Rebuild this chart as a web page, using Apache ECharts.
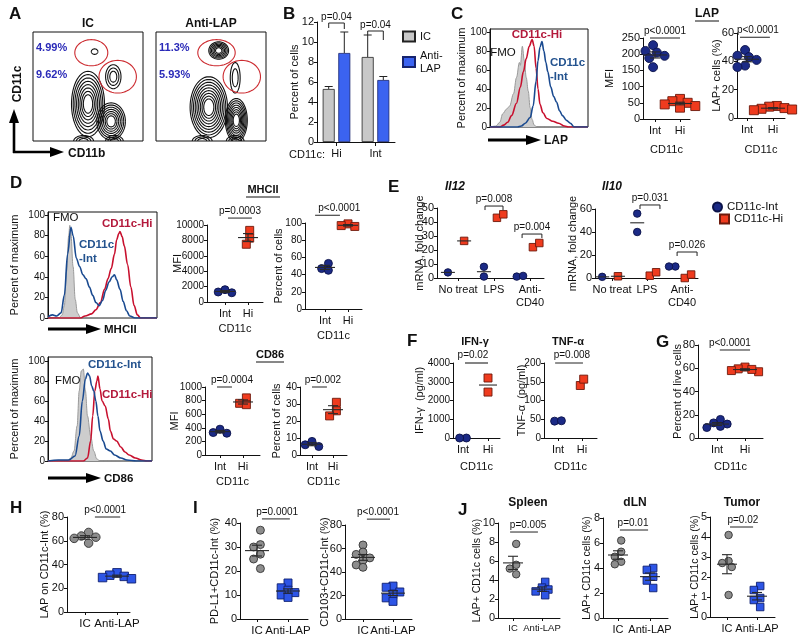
<!DOCTYPE html>
<html><head><meta charset="utf-8">
<script src="https://cdn.jsdelivr.net/npm/echarts@6.0.0/dist/echarts.min.js"></script>
<style>html,body{margin:0;padding:0;background:#fff;}#chart{width:800px;height:640px;}</style>
</head><body><div id="chart"></div>
<script>
const FONT = '"Liberation Sans", Arial, Helvetica, sans-serif';

/* ================= DATA ================= */
// A: flow cytometry contour populations [cx, cy, rx, ry, rings] (% of plot), gates [cx, cy, rx, ry]
const aIcContours = [[50,34,15,30,8],[71,18,13,17,7],[73,59,7,11,3],[56,82,3,2.5,1],[46,0,9,5,3],[74,0,8,5,3]];
const aIcGates = [[53,81,15,12],[77,59,17,15]];
const aIcPct = ['4.99%','9.62%'];
const aLapContours = [[48,31,17,28,9],[73,19,10,20,8],[57,83,9,8,6],[72,58,4.5,14,2],[42,0,9,5,3],[72,0,8,5,3]];
const aLapGates = [[55,81,17,12],[78,59,17,15]];
const aLapPct = ['11.3%','5.93%'];

// B: bar chart
const bCats = ['Hi','Int'];
const bIC = [5.3, 8.5];
const bIcErr = [0.25, 2.2];
const bLAP = [8.9, 6.2];
const bLapErr = [2.1, 0.35];
const bPvals = ['p=0.04','p=0.04'];
const bBrackets = [[0, 11.9, 11.4, 11.3],[1, 11.1, 10.7, 10.2]];

// C: LAP histogram [x, % of max]
const cFmo = [[0,0],[6,1],[10,5],[13,14],[17,19],[20,22],[24,35],[27,52],[30,68],[31,65],[33,85],[35,70],[37,52],[39,38],[41,20],[43,8],[45,2],[48,0],[100,0]];
const cHi = [[0,0],[10,0],[14,2],[18,5],[22,12],[27,25],[31,42],[34,58],[37,72],[40,85],[43,92],[45,85],[47,62],[49,40],[51,24],[54,15],[58,9],[64,6],[70,4],[76,1],[80,0],[100,0]];
const cInt = [[0,0],[28,0],[32,1],[36,4],[41,10],[44,22],[47,48],[49,70],[51,84],[53,90],[55,80],[57,68],[59,58],[62,42],[65,32],[68,26],[71,17],[74,12],[78,7],[82,4],[86,0],[100,0]];
const cMfiInt = [228, 210, 205, 195, 188, 160];
const cMfiHi = [62, 55, 50, 45, 40, 35];
const cPctInt = [48, 44, 43, 41, 37, 36];
const cPctHi = [8.5, 8, 7, 6.5, 6, 5.5];

// D: MHCII and CD86
const dMhcFmo = [[0,0],[10,0],[13,3],[15,12],[17,45],[19,80],[20,90],[21,82],[23,50],[25,18],[27,5],[30,0],[100,0]];
const dMhcInt = [[0,1],[4,3],[8,2],[12,5],[15,22],[18,62],[21,88],[23,80],[26,58],[29,50],[32,42],[35,38],[38,30],[41,22],[44,15],[47,12],[50,17],[53,27],[56,35],[59,40],[61,42],[63,37],[66,28],[69,16],[72,7],[75,2],[80,0],[100,0]];
const dMhcHi = [[0,0],[30,0],[34,2],[40,4],[44,8],[48,15],[52,28],[55,38],[58,48],[61,62],[63,76],[65,82],[66,84],[68,79],[70,70],[73,52],[76,30],[79,12],[82,3],[85,0],[100,0]];
const dMhcMfiInt = [1600, 1300, 1200];
const dMhcMfiHi = [9300, 8300, 7500];
const dMhcPctInt = [53, 47, 45];
const dMhcPctHi = [99, 97, 96];
const d86Fmo = [[0,0],[18,0],[22,3],[25,10],[28,35],[30,70],[32,90],[34,92],[36,70],[38,45],[41,25],[44,10],[47,2],[50,0],[100,0]];
const d86Int = [[0,0],[10,1],[20,1],[26,5],[30,25],[33,60],[36,82],[38,88],[40,85],[42,75],[44,70],[46,60],[48,45],[50,30],[53,20],[56,12],[60,10],[64,6],[70,3],[76,1],[85,0],[100,0]];
const d86Hi = [[0,0],[34,0],[38,3],[41,20],[43,45],[45,70],[47,80],[48,85],[50,72],[52,60],[55,55],[58,42],[60,30],[63,22],[66,20],[70,14],[74,9],[78,6],[84,3],[90,1],[95,0],[100,0]];
const d86MfiInt = [380, 330, 320];
const d86MfiHi = [840, 760, 740];
const d86PctInt = [8, 6, 5];
const d86PctHi = [31, 26, 23];

// E: mRNA fold change, per treatment group
const eCats = ['No treat', 'LPS', 'Anti-\nCD40'];
const il12Int = [[4], [8, 1], [1, 1.5]];
const il12Hi = [[26.5], [43, 45.5], [22, 25]];
const il10Int = [[1], [56, 40], [10, 10]];
const il10Hi = [[1.5], [2, 5], [0, 3]];

// F, G
const fCats = ['Int', 'Hi'];
const ifnInt = [0, 0];
const ifnHi = [3200, 2450];
const tnfInt = [45, 46];
const tnfHi = [140, 157];
const gInt = [16, 13, 12, 10, 9];
const gHi = [61, 59.5, 58, 57, 59];

// H, I, J
const hCats = ['IC', 'Anti-LAP'];
const hIC = [67, 64, 63, 62, 58];
const hLAP = [33, 31, 30, 29, 28];
const iPdIC = [37, 31, 30, 27, 25, 21];
const iPdLAP = [15, 13, 12, 11, 10, 9];
const iCdIC = [63, 57, 55, 52, 50, 46, 44];
const iCdLAP = [28, 27, 23, 21, 18, 15];
const jSpIC = [7.8, 5.6, 5.2, 4.6];
const jSpLAP = [3.8, 3.2, 3.0, 2.8, 2.4];
const jLnIC = [6.2, 5.3, 4.9, 4.5, 4.3];
const jLnLAP = [4.0, 3.85, 3.3, 3.0, 2.4];
const jTuIC = [4.1, 2.8, 2.7, 2.5, 1.1];
const jTuLAP = [1.55, 1.35, 0.95, 0.85, 0.5];

/* ================= BUILD ================= */
const option = {animation:false, backgroundColor:'#ffffff', textStyle:{fontFamily:FONT},
  grid:[], xAxis:[], yAxis:[], series:[], legend:[], graphic:{elements:[]}};
const G = option.graphic.elements;

const KIND = {
  navy:{symbol:'circle', color:'#1b2a86', border:'#0b1248'},
  red:{symbol:'rect', color:'#ef3b1e', border:'#6d1a0c'},
  gray:{symbol:'circle', color:'#8d8d8d', border:'#333333'},
  blueSq:{symbol:'rect', color:'#2d55e6', border:'#0f1f70'}
};

function addGrid(l,t,w,h,extra){
  option.grid.push(Object.assign({left:l, top:t, width:w, height:h, containLabel:false, outerBoundsMode:'none', show:false}, extra||{}));
  return option.grid.length-1;
}
function addAxes(gi, xa, ya){
  option.xAxis.push(Object.assign({gridIndex:gi}, xa));
  option.yAxis.push(Object.assign({gridIndex:gi}, ya));
  return [option.xAxis.length-1, option.yAxis.length-1];
}
function valY(min,max,interval,o){
  o = o||{};
  return {type:'value', min, max, interval,
    axisLine:{show:true, onZero:false, lineStyle:{color:'#111', width:1}},
    axisTick:{show:true, length:3, lineStyle:{color:'#111'}},
    axisLabel:{fontSize:o.fs||11, color:'#111', margin:3, fontFamily:FONT, showMaxLabel:o.hideMax?false:true,
      formatter:o.fmt||function(v){return String(v);}},
    splitLine:{show:false},
    name:o.name||'', nameLocation:'middle', nameRotate:90, nameGap:o.gap||20, nameMoveOverlap:false,
    nameTextStyle:{fontSize:o.nfs||11, color:'#111', fontFamily:FONT}};
}
function dotX(min,max,cats,pos,o){
  o = o||{};
  return {type:'value', min, max,
    axisLine:{show:true, onZero:false, lineStyle:{color:'#111', width:1}},
    axisTick:{show:true, length:3, customValues:pos, lineStyle:{color:'#111'}},
    axisLabel:{customValues:pos, fontSize:o.fs||11, color:'#111', margin:5, fontFamily:FONT, lineHeight:(o.fs||11)+2,
      formatter:function(v){const i=pos.findIndex(p=>Math.abs(p-v)<1e-6); return i>=0?cats[i]:'';}},
    splitLine:{show:false},
    name:o.name||'', nameLocation:'middle', nameGap:o.gap||22, nameMoveOverlap:false,
    nameTextStyle:{fontSize:11, color:'#111', fontFamily:FONT}};
}
function xr(L,R,a,b){const s=b-a; return [-(a-L)/s, (R-a)/s];}

function swarm(vals, pxX, pxY, size){
  const d = size*0.85;
  const idx = vals.map((v,i)=>i).sort((a,b)=>vals[b]-vals[a]);
  const placed=[], offs=new Array(vals.length).fill(0);
  const cands=[0]; for(let k=1;k<12;k++){cands.push(-k*0.5, k*0.5);}
  idx.forEach(i=>{
    const y=vals[i]*pxY;
    for(const c of cands){
      const x=c*d;
      if(placed.every(p=>Math.hypot(p[0]-x,p[1]-y)>=d-0.01)){placed.push([x,y]); offs[i]=x; break;}
    }
  });
  const mn=Math.min(...offs), mx=Math.max(...offs), sh=(mn+mx)/2;
  return offs.map(o=>(o-sh)/pxX);
}

function meanCustom(xi, yi, data, hw, cap){
  option.series.push({type:'custom', xAxisIndex:xi, yAxisIndex:yi, silent:true, z:6, clip:false, data,
    renderItem:function(params, api){
      const x=api.value(0), m=api.value(1), s=api.value(2);
      const c=api.coord([x,m]); const st={stroke:'#2a2a2a', lineWidth:1.1};
      const ch=[{type:'line', shape:{x1:c[0]-hw, y1:c[1], x2:c[0]+hw, y2:c[1]}, style:st}];
      if(s>0){
        const t=api.coord([x,m+s])[1], b=api.coord([x,m-s])[1];
        ch.push({type:'line', shape:{x1:c[0], y1:t, x2:c[0], y2:b}, style:st});
        ch.push({type:'line', shape:{x1:c[0]-cap, y1:t, x2:c[0]+cap, y2:t}, style:st});
        ch.push({type:'line', shape:{x1:c[0]-cap, y1:b, x2:c[0]+cap, y2:b}, style:st});
      }
      return {type:'group', children:ch};
    }});
}

function pCustom(xi, yi, items, o){
  o = o||{};
  option.series.push({type:'custom', xAxisIndex:xi, yAxisIndex:yi, silent:true, clip:false, z:7,
    data: items.map(p=>[p.x1, p.x2, p.y, p.tx==null?(p.x1+p.x2)/2:p.tx, p.bracket?1:0]),
    renderItem:function(params, api){
      const it = items[params.dataIndex];
      const a=api.coord([api.value(0), api.value(2)]), b=api.coord([api.value(1), api.value(2)]);
      const tx=api.coord([api.value(3), api.value(2)])[0];
      const st={stroke:o.color||'#222', lineWidth:o.lw||1};
      const ch=[{type:'line', shape:{x1:a[0], y1:a[1], x2:b[0], y2:b[1]}, style:st}];
      if(api.value(4)){
        ch.push({type:'line', shape:{x1:a[0], y1:a[1], x2:a[0], y2:a[1]+4}, style:st});
        ch.push({type:'line', shape:{x1:b[0], y1:b[1], x2:b[0], y2:b[1]+4}, style:st});
      }
      ch.push({type:'text', style:{text:it.text, x:tx, y:a[1]-(o.tgap||2), fill:'#111',
        font:(o.fs||10)+'px '+FONT, textAlign:'center', textVerticalAlign:'bottom', align:'center', verticalAlign:'bottom'}});
      return {type:'group', children:ch};
    }});
}

function dotPanel(c){
  const [l,t,w,h]=c.grid;
  const gi=addGrid(l,t,w,h);
  const pos=c.catPos||c.cats.map((_,i)=>i);
  const [xi,yi]=addAxes(gi,
    dotX(c.x[0],c.x[1],c.cats,pos,{fs:c.xfs,name:c.xName,gap:c.xGap}),
    valY(c.y[0],c.y[1],c.y[2],{fs:c.yfs,name:c.yName,gap:c.yGap,nfs:c.nfs}));
  const pxX=w/(c.x[1]-c.x[0]), pxY=h/(c.y[1]-c.y[0]);
  const size=c.size||8;
  const means=[];
  c.groups.forEach(g=>{
    const k=KIND[g.kind];
    const offs=swarm(g.vals,pxX,pxY,size);
    const s={type:'scatter', xAxisIndex:xi, yAxisIndex:yi, symbol:k.symbol, symbolSize:size,
      itemStyle:{color:k.color, borderColor:k.border, borderWidth:0.9, opacity:1},
      data:g.vals.map((v,i)=>[g.pos+offs[i], v]), z:3, silent:true, clip:false};
    if(g.name) s.name=g.name;
    option.series.push(s);
    const n=g.vals.length, m=g.vals.reduce((a,b)=>a+b,0)/n;
    const sd=n>1?Math.sqrt(g.vals.reduce((a,b)=>a+(b-m)*(b-m),0)/(n-1)):0;
    if(c.mean==='sem') means.push([g.pos,m,sd/Math.sqrt(n)]);
    else if(c.mean==='stacked' && offs.every(o=>Math.abs(o)<1e-9)) means.push([g.pos,m,0]);
  });
  if(means.length) meanCustom(xi,yi,means,c.hw||11,c.cap||5);
  if(c.p) pCustom(xi,yi,c.p,c.pStyle||{});
}

function histPanel(l,t,w,h,ymax,yGap,curves){
  const gi=addGrid(l,t,w,h,{show:true, borderColor:'#111', borderWidth:1, backgroundColor:'transparent'});
  const [xi,yi]=addAxes(gi,{type:'value',min:0,max:100,show:false},
    valY(0,ymax,20,{fs:10,name:'Percent of maximum',gap:yGap,hideMax:true,
      fmt:function(v){return (Math.abs(v%20)<1e-6)?String(v):'';}}));
  curves.forEach(cv=>{
    const s={type:'line', xAxisIndex:xi, yAxisIndex:yi, data:cv.data, showSymbol:false, symbol:'none',
      smooth:0.35, smoothMonotone:'x', silent:true, lineStyle:{color:cv.color, width:cv.width||1.6}, z:cv.z||3};
    if(cv.fill) s.areaStyle={color:cv.fill, opacity:1};
    option.series.push(s);
  });
}

function ellPts(c,sz){
  const pts=[];
  for(let t=0;t<=60;t++){const a=t/60*Math.PI*2; pts.push([c[0]+sz[0]*Math.cos(a), c[1]+sz[1]*Math.sin(a)]);}
  return pts;
}
function ellSeries(xi, yi, data, style, z, clip){
  option.series.push({type:'custom', xAxisIndex:xi, yAxisIndex:yi, silent:true, clip:clip, z:z, data:data,
    renderItem:function(p,api){
      const c=api.coord([api.value(0),api.value(1)]);
      const sz=api.size([api.value(2)*2,api.value(3)*2]).map(v=>v/2);
      return {type:'polyline', shape:{points:ellPts(c,sz)}, style:Object.assign({}, style)};
    }});
}
function flowPanel(l,t,contours,gates){
  const gi=addGrid(l,t,110,109,{show:true, borderColor:'#111', borderWidth:1, backgroundColor:'transparent'});
  const [xi,yi]=addAxes(gi,{type:'value',min:0,max:100,show:false},{type:'value',min:0,max:100,show:false});
  // expand each population into its nested contour rings
  const rings=[];
  contours.forEach(([cx,cy,rx,ry,n])=>{
    for(let k=n;k>=1;k--){const f=0.18+0.82*k/n; rings.push([cx,cy,rx*f,ry*f]);}
  });
  ellSeries(xi,yi,rings,{fill:'rgba(0,0,0,0)', stroke:'#111', lineWidth:1.1},2,true);
  ellSeries(xi,yi,gates,{fill:'rgba(0,0,0,0)', stroke:'#cc2a2f', lineWidth:1.1},4,false);
}

/* ---------- Panel A ---------- */
flowPanel(33,32,aIcContours,aIcGates);
flowPanel(156,32,aLapContours,aLapGates);

/* ---------- Panel B ---------- */
(function(){
  const gi=addGrid(317,22,78,120);
  const [xi,yi]=addAxes(gi,
    {type:'category', data:bCats, axisLine:{show:true,onZero:false,lineStyle:{color:'#111'}},
     axisTick:{show:true,alignWithLabel:true,length:4,lineStyle:{color:'#111'}},
     axisLabel:{fontSize:11,color:'#111',margin:6,fontFamily:FONT}},
    valY(0,12,2,{fs:11,name:'Percent of cells',gap:16.5}));
  option.series.push({type:'bar', name:'IC', xAxisIndex:xi, yAxisIndex:yi, data:bIC, barWidth:12, barGap:'30%',
    itemStyle:{color:'#c8c8c8', borderColor:'#222', borderWidth:0.8}, silent:true, z:2});
  option.series.push({type:'bar', name:'Anti-LAP', xAxisIndex:xi, yAxisIndex:yi, data:bLAP, barWidth:12, barGap:'30%',
    itemStyle:{color:'#3b63f0', borderColor:'#16236e', borderWidth:0.8}, silent:true, z:2});
  const OFF=7.8;
  [[bIC,bIcErr,-OFF],[bLAP,bLapErr,OFF]].forEach(([v,e,off])=>{
    option.series.push({type:'custom', xAxisIndex:xi, yAxisIndex:yi, silent:true, clip:false, z:5,
      data:v.map((val,i)=>[i,val,e[i]]),
      renderItem:function(p,api){
        const c=api.coord([api.value(0),api.value(1)]), tp=api.coord([api.value(0),api.value(1)+api.value(2)]);
        const x=c[0]+off, st={stroke:'#222',lineWidth:1};
        return {type:'group', children:[
          {type:'line',shape:{x1:x,y1:c[1],x2:x,y2:tp[1]},style:st},
          {type:'line',shape:{x1:x-4,y1:tp[1],x2:x+4,y2:tp[1]},style:st}]};
      }});
  });
  option.series.push({type:'custom', xAxisIndex:xi, yAxisIndex:yi, silent:true, clip:false, z:6, data:bBrackets,
    renderItem:function(p,api){
      const c=api.coord([api.value(0),api.value(1)]);
      const yl=api.coord([api.value(0),api.value(2)])[1], yr=api.coord([api.value(0),api.value(3)])[1];
      const xl=c[0]-OFF, xR=c[0]+OFF, st={stroke:'#222',lineWidth:1};
      return {type:'group', children:[
        {type:'line',shape:{x1:xl,y1:c[1],x2:xR,y2:c[1]},style:st},
        {type:'line',shape:{x1:xl,y1:c[1],x2:xl,y2:yl},style:st},
        {type:'line',shape:{x1:xR,y1:c[1],x2:xR,y2:yr},style:st},
        {type:'text',style:{text:bPvals[p.dataIndex],x:c[0],y:c[1]-1,fill:'#111',font:'10px '+FONT,
          textAlign:'center',textVerticalAlign:'bottom',align:'center',verticalAlign:'bottom'}}]};
    }});
})();
option.legend.push({data:['IC','Anti-LAP'], left:397, top:25, orient:'vertical', icon:'rect', itemWidth:12, itemHeight:10,
  itemGap:6, selectedMode:false, textStyle:{fontSize:11, color:'#111', fontFamily:FONT, lineHeight:13},
  formatter:function(n){return n==='Anti-LAP'?'Anti-\nLAP':n;}});

/* ---------- Panel C ---------- */
histPanel(490,29,98,98,103.2,22.5,[
  {data:cFmo, color:'#9a9a9a', fill:'#cdcdcd', width:1, z:2},
  {data:cHi, color:'#c8102e'},
  {data:cInt, color:'#1a4a90'}]);
dotPanel({grid:[643,38,47,81], x:xr(643,690,655,680), y:[0,250,50], cats:['Int','Hi'], yName:'MFI', yGap:27.5,
  xName:'CD11c', xGap:25, size:9, hw:12, mean:'sem',
  groups:[{vals:cMfiInt,pos:0,kind:'navy'},{vals:cMfiHi,pos:1,kind:'red'}],
  p:[{text:'p<0.0001', x1:-0.2, x2:1.0, y:250}]});
dotPanel({grid:[737,33,48,85], x:xr(737,785,747,773), y:[0,60,20], cats:['Int','Hi'], yName:'LAP+ cells (%)', yGap:14.5,
  xName:'CD11c', xGap:26, size:9, hw:12, mean:'sem',
  groups:[{vals:cPctInt,pos:0,kind:'navy'},{vals:cPctHi,pos:1,kind:'red'}],
  p:[{text:'p<0.0001', x1:-0.27, x2:0.88, y:57, tx:0.42}]});

/* ---------- Panel D ---------- */
histPanel(48,212,109,106,102.9,27.5,[
  {data:dMhcFmo, color:'#9a9a9a', fill:'#cdcdcd', width:1, z:2},
  {data:dMhcHi, color:'#c8102e'},
  {data:dMhcInt, color:'#1a4a90'}]);
dotPanel({grid:[207,225,56,77], x:xr(207,263,225,248), y:[0,10000,2000], cats:['Int','Hi'], yName:'MFI', yGap:24,
  yfs:10, xName:'CD11c', xGap:21, size:8, hw:10, mean:'sem',
  groups:[{vals:dMhcMfiInt,pos:0,kind:'navy'},{vals:dMhcMfiHi,pos:1,kind:'red'}],
  p:[{text:'p=0.0003', x1:0.13, x2:1.17, y:10900}]});
dotPanel({grid:[305,223,57,86], x:xr(305,362,325,348), y:[0,100,20], cats:['Int','Hi'], yName:'Percent of cells', yGap:21,
  yfs:10, xName:'CD11c', xGap:21, size:8, hw:10, mean:'sem',
  groups:[{vals:dMhcPctInt,pos:0,kind:'navy'},{vals:dMhcPctHi,pos:1,kind:'red'}],
  p:[{text:'p<0.0001', x1:-0.43, x2:0.65, y:109, tx:0.62}]});
histPanel(48,357,104,104,104,27.5,[
  {data:d86Fmo, color:'#9a9a9a', fill:'#cdcdcd', width:1, z:2},
  {data:d86Hi, color:'#c8102e'},
  {data:d86Int, color:'#1a4a90'}]);
dotPanel({grid:[205,387,55,68], x:xr(205,260,220,243), y:[0,1000,200], cats:['Int','Hi'], yName:'MFI', yGap:25,
  yfs:10, xName:'CD11c', xGap:21, size:8, hw:10, mean:'sem',
  groups:[{vals:d86MfiInt,pos:0,kind:'navy'},{vals:d86MfiHi,pos:1,kind:'red'}],
  p:[{text:'p=0.0004', x1:-0.13, x2:0.52, y:1000, tx:0.52}]});
dotPanel({grid:[300,387,47,68], x:xr(300,347,312,333), y:[0,40,10], cats:['Int','Hi'], yName:'Percent of cells', yGap:18,
  yfs:10, xName:'CD11c', xGap:21, size:8, hw:10, mean:'sem',
  groups:[{vals:d86PctInt,pos:0,kind:'navy'},{vals:d86PctHi,pos:1,kind:'red'}],
  p:[{text:'p=0.002', x1:0, x2:0.71, y:40, tx:0.52}]});

/* ---------- Panel E ---------- */
function eGroups(intArr, hiArr){
  const gs=[];
  intArr.forEach((v,i)=>gs.push({vals:v,pos:i-0.28,kind:'navy',name:'CD11c-Int'}));
  hiArr.forEach((v,i)=>gs.push({vals:v,pos:i+0.17,kind:'red',name:'CD11c-Hi'}));
  return gs;
}
dotPanel({grid:[437,208,107,70], x:[-21/36, 86/36], y:[0,50,10], cats:eCats, yName:'mRNA, fold change', yGap:11.5,
  size:7.5, hw:7, mean:'stacked', groups:eGroups(il12Int, il12Hi),
  p:[{text:'p=0.008', x1:0.75, x2:1.25, y:51.4, bracket:true},{text:'p=0.004', x1:1.78, x2:2.33, y:31.4, bracket:true}]});
dotPanel({grid:[595,209,103,69], x:[-17/35, 86/35], y:[0,60,20], cats:eCats, yName:'mRNA, fold change', yGap:16.5,
  size:7.5, hw:7, mean:'stacked', groups:eGroups(il10Int, il10Hi),
  p:[{text:'p=0.031', x1:0.8, x2:1.37, y:63.5, bracket:true},{text:'p=0.026', x1:1.86, x2:2.43, y:22.6, bracket:true}]});
option.legend.push({data:['CD11c-Int'], left:707, top:196, itemWidth:9, itemHeight:9, itemGap:2, selectedMode:false,
  textStyle:{fontSize:11.5, color:'#111', fontFamily:FONT}});
option.legend.push({data:['CD11c-Hi'], left:714, top:208, itemWidth:9, itemHeight:9, itemGap:2, selectedMode:false,
  textStyle:{fontSize:11.5, color:'#111', fontFamily:FONT}});

/* ---------- Panel F ---------- */
dotPanel({grid:[453,363,47,75], x:xr(453,500,463,488), y:[0,4000,1000], cats:fCats, yName:'IFN-\u03b3  (pg/ml)', yGap:27.5,
  yfs:10, xName:'CD11c', xGap:23, size:8, hw:9, mean:'stacked',
  groups:[{vals:ifnInt,pos:0,kind:'navy'},{vals:ifnHi,pos:1,kind:'red'}],
  p:[{text:'p=0.02', x1:0.08, x2:1.0, y:4000, tx:0.4}], pStyle:{color:'#777', lw:1.8, tgap:3}});
dotPanel({grid:[544,363,53,75], x:xr(544,597,558,582), y:[0,200,50], cats:fCats, yName:'TNF-\u03b1  (pg/ml)', yGap:16.5,
  yfs:10, xName:'CD11c', xGap:23, size:8, hw:9, mean:'stacked',
  groups:[{vals:tnfInt,pos:0,kind:'navy'},{vals:tnfHi,pos:1,kind:'red'}],
  p:[{text:'p=0.008', x1:-0.12, x2:1.04, y:200, tx:0.58}], pStyle:{tgap:3}});

/* ---------- Panel G ---------- */
dotPanel({grid:[698,345,65,93], x:xr(698,763,717,745), y:[0,80,20], cats:fCats, yName:'Percent of live cells', yGap:14.5,
  xName:'CD11c', xGap:23, size:8, hw:12, mean:'sem',
  groups:[{vals:gInt,pos:0,kind:'navy'},{vals:gHi,pos:1,kind:'red'}],
  p:[{text:'p<0.0001', x1:0.1, x2:1.18, y:75.7, tx:0.46}]});

/* ---------- Panel H ---------- */
dotPanel({grid:[67,517,63,95], x:xr(67,130,85,117), y:[0,80,20], cats:hCats, yName:'LAP on CD11c-Int (%)', yGap:16.5,
  xfs:11.5, size:8.5, hw:12, mean:'sem',
  groups:[{vals:hIC,pos:0,kind:'gray'},{vals:hLAP,pos:1,kind:'blueSq'}],
  p:[{text:'p<0.0001', x1:0.31, x2:1.1, y:80, tx:0.63}]});

/* ---------- Panel I ---------- */
dotPanel({grid:[240,523,68,96], x:xr(240,308,257,288), y:[0,40,10], cats:hCats, yName:'PD-L1+CD11c-Int (%)', yGap:19.5,
  xfs:11.5, size:8, hw:12, mean:'sem',
  groups:[{vals:iPdIC,pos:0,kind:'gray'},{vals:iPdLAP,pos:1,kind:'blueSq'}],
  p:[{text:'p=0.0001', x1:0.16, x2:1.06, y:41.7, tx:0.65}]});
dotPanel({grid:[345,525,67,94], x:xr(345,412,363,393), y:[0,80,20], cats:hCats, yName:'CD103+CD11c-Int (%)', yGap:14.5,
  xfs:11.5, size:8, hw:12, mean:'sem',
  groups:[{vals:iCdIC,pos:0,kind:'gray'},{vals:iCdLAP,pos:1,kind:'blueSq'}],
  p:[{text:'p<0.0001', x1:0.13, x2:0.9, y:85, tx:0.5}]});

/* ---------- Panel J ---------- */
dotPanel({grid:[498,523,62,95], x:xr(498,560,513,542), y:[0,10,2], cats:hCats, yName:'LAP+ CD11c cells (%)', yGap:15.5,
  nfs:10.5, xfs:9.5, size:7.5, hw:10, mean:'sem',
  groups:[{vals:jSpIC,pos:0,kind:'gray'},{vals:jSpLAP,pos:1,kind:'blueSq'}],
  p:[{text:'p=0.005', x1:-0.1, x2:0.86, y:9.05, tx:0.52}]});
dotPanel({grid:[603,518,65,100], x:xr(603,668,618,650), y:[0,8,2], cats:hCats, yName:'LAP+ CD11c cells (%)', yGap:10.5,
  nfs:10.5, xfs:11, size:7.5, hw:10, mean:'sem',
  groups:[{vals:jLnIC,pos:0,kind:'gray'},{vals:jLnLAP,pos:1,kind:'blueSq'}],
  p:[{text:'p=0.01', x1:0.06, x2:0.94, y:7.04, tx:0.47}]});
dotPanel({grid:[710,517,65,100], x:xr(710,775,727,757), y:[0,5,1], cats:hCats, yName:'LAP+ CD11c cells (%)', yGap:9.5,
  nfs:10.5, xfs:11, size:7.5, hw:10, mean:'sem',
  groups:[{vals:jTuIC,pos:0,kind:'gray'},{vals:jTuLAP,pos:1,kind:'blueSq'}],
  p:[{text:'p=0.02', x1:0.1, x2:0.87, y:4.5, tx:0.53}]});

/* ---------- Annotations ---------- */
function T(text,x,y,o){
  o=o||{};
  return {type:'text', x, y, rotation:o.rot||0, silent:true, z:50,
    style:{text, fill:o.color||'#111', font:(o.italic?'italic ':'')+(o.bold?'bold ':'')+(o.size||11)+'px '+FONT,
      textAlign:o.align||'center', textVerticalAlign:o.va||'middle', align:o.align||'center', verticalAlign:o.va||'middle'}};
}
function U(x,y,w){return {type:'line', silent:true, z:50, shape:{x1:x-w/2,y1:y,x2:x+w/2,y2:y}, style:{stroke:'#111',lineWidth:1}};}
function arrow(x1,y1,x2,y2,w,hl,hw){
  const ang=Math.atan2(y2-y1,x2-x1), bx=x2-hl*Math.cos(ang), by=y2-hl*Math.sin(ang);
  const px=-Math.sin(ang), py=Math.cos(ang);
  return [{type:'line', silent:true, z:50, shape:{x1,y1,x2:bx,y2:by}, style:{stroke:'#000',lineWidth:w}},
    {type:'polygon', silent:true, z:50, shape:{points:[[x2,y2],[bx+px*hw,by+py*hw],[bx-px*hw,by-py*hw]]}, style:{fill:'#000'}}];
}
const RED='#b3193b', BLUE='#23528e', PCT='#2a2ab8';
// panel letters
[['A',9,14],['B',283,14],['C',451,14],['D',10,183],['E',388,187],['F',407,341],['G',656,342],['H',10,508],['I',193,508],['J',458,510]]
  .forEach(a=>G.push(T(a[0],a[1],a[2],{bold:true,size:17,align:'left'})));
// A
G.push(T('IC',88,24,{bold:true,size:12}), T('Anti-LAP',211,24,{bold:true,size:12}));
G.push(T(aIcPct[0],36,48,{bold:true,color:PCT,align:'left'}), T(aIcPct[1],36,75,{bold:true,color:PCT,align:'left'}));
G.push(T(aLapPct[0],159,48,{bold:true,color:PCT,align:'left'}), T(aLapPct[1],159,75,{bold:true,color:PCT,align:'left'}));
G.push(...arrow(14,153,14,109,2.6,14,5), ...arrow(13,152,64,152,2.6,14,5));
G.push(T('CD11c',18,84,{bold:true,size:12,rot:Math.PI/2}), T('CD11b',68,154,{bold:true,size:12,align:'left'}));
// B
G.push(T('CD11c:',307,155,{size:11}));
// C
G.push(T('LAP',707,14,{bold:true,size:12}), U(707,21,24));
G.push(T('CD11c-Hi',537,35,{bold:true,color:RED,size:11.5}), T('FMO',503,53,{size:11.5}));
G.push(T('CD11c',550,63,{bold:true,color:BLUE,size:11.5,align:'left'}), T('-Int',550,77,{bold:true,color:BLUE,size:11.5,align:'left'}));
G.push(...arrow(488,140,541,140,3,15,5), T('LAP',544,141,{bold:true,size:12,align:'left'}));
// D
G.push(T('MHCII',263,190,{bold:true,size:11}), U(263,197,34));
G.push(T('FMO',53,218,{size:11.5,align:'left'}), T('CD11c-Hi',102,224,{bold:true,color:RED,size:11.5,align:'left'}));
G.push(T('CD11c',79,245,{bold:true,color:BLUE,size:11.5,align:'left'}), T('-Int',79,259,{bold:true,color:BLUE,size:11.5,align:'left'}));
G.push(...arrow(48,329,101,329,3,15,5), T('MHCII',104,330,{bold:true,size:11.5,align:'left'}));
G.push(T('CD86',270,355,{bold:true,size:11}), U(270,362,28));
G.push(T('CD11c-Int',88,365,{bold:true,color:BLUE,size:11.5,align:'left'}), T('FMO',55,381,{size:11.5,align:'left'}));
G.push(T('CD11c-Hi',102,395,{bold:true,color:RED,size:11.5,align:'left'}));
G.push(...arrow(48,478,101,478,3,15,5), T('CD86',104,479,{bold:true,size:11.5,align:'left'}));
// E
G.push(T('Il12',455,187,{bold:true,italic:true,size:12}), T('Il10',612,187,{bold:true,italic:true,size:12}));
// F
G.push(T('IFN-\u03b3',475,342,{bold:true,size:11}), T('TNF-\u03b1',568,342,{bold:true,size:11}));
// J
G.push(T('Spleen',528,503,{bold:true,size:12}), T('dLN',635,503,{bold:true,size:12}), T('Tumor',742,503,{bold:true,size:12}));

const chart = echarts.init(document.getElementById('chart'), null, {renderer:'canvas', width:800, height:640});
chart.setOption(option);
</script>
</body></html>
